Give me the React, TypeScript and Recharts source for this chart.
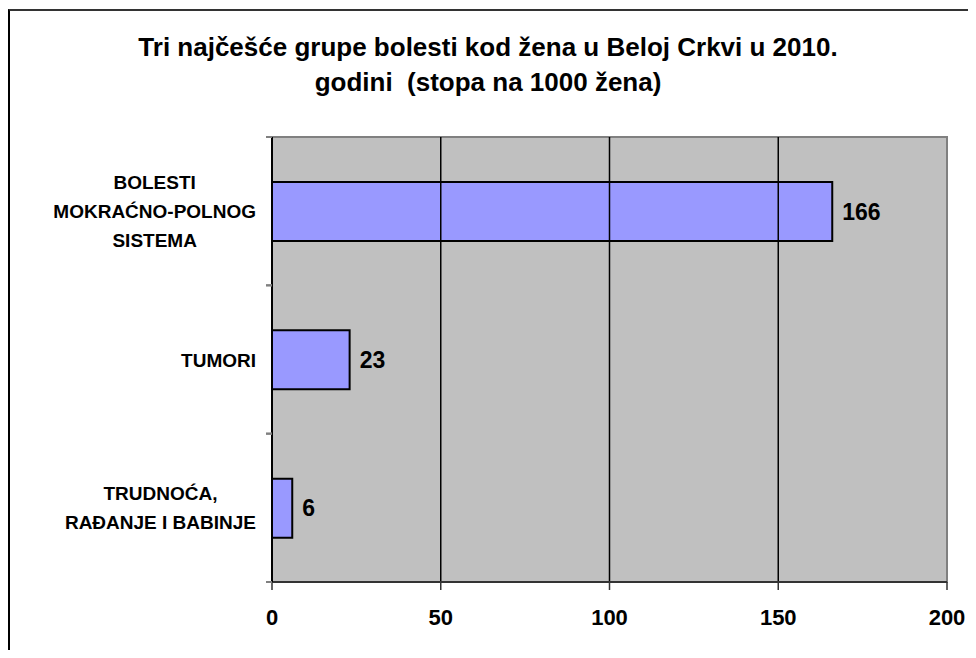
import React from "react";
import {
  BarChart,
  Bar,
  XAxis,
  YAxis,
  CartesianGrid,
  ReferenceLine,
  ReferenceArea,
  LabelList,
} from "recharts";

const categories = [
  "BOLESTI|MOKRAĆNO-POLNOG|SISTEMA",
  "TUMORI",
  "TRUDNOĆA,|RAĐANJE I BABINJE",
];
const values = [166, 23, 6];
const xTicks = [0, 50, 100, 150, 200];
const gridValues = [50, 100, 150];
const titleLines = [
  "Tri najčešće grupe bolesti kod žena u Beloj Crkvi u 2010.",
  "godini  (stopa na 1000 žena)",
];

const data = categories.map((c, i) => ({ name: c, value: values[i] }));

const W = 976;
const H = 658;
const MARGIN = { top: 137, right: 29, bottom: 0, left: 0 };
const Y_AXIS_W = 272;
const X_AXIS_H = 76;
const FONT = '"Liberation Sans", Arial, sans-serif';
const CAT_FONT_SIZE = 19;
const LINE_H = 29;

let ctx: CanvasRenderingContext2D | null = null;
function measure(t: string): number {
  if (!ctx && typeof document !== "undefined") {
    ctx = document.createElement("canvas").getContext("2d");
  }
  if (!ctx) return t.length * CAT_FONT_SIZE * 0.7;
  ctx.font = `bold ${CAT_FONT_SIZE}px "Liberation Sans"`;
  return ctx.measureText(t).width;
}

const plotH = H - MARGIN.top - MARGIN.bottom - X_AXIS_H;
const bandHalf = plotH / categories.length / 2;

const CategoryTick = (props: any) => {
  const { x, y, payload } = props;
  const lines = String(payload.value).split("|");
  const blockW = Math.max(...lines.map(measure));
  const axisX = x + 8;
  const cx = axisX - 16 - blockW / 2;
  const startY = y - ((lines.length - 1) * LINE_H) / 2;
  return (
    <g>
      <line x1={axisX - 6} x2={axisX} y1={y - bandHalf} y2={y - bandHalf} stroke="#808080" strokeWidth={2} />
      <line x1={axisX - 6} x2={axisX} y1={y + bandHalf} y2={y + bandHalf} stroke="#808080" strokeWidth={2} />
      <text
        x={cx}
        y={startY}
        textAnchor="middle"
        fontFamily={FONT}
        fontWeight="bold"
        fontSize={CAT_FONT_SIZE}
        fill="#000"
        dominantBaseline="central"
      >
        {lines.map((l, i) => (
          <tspan key={i} x={cx} y={startY + i * LINE_H}>
            {l}
          </tspan>
        ))}
      </text>
    </g>
  );
};

const XTick = (props: any) => {
  const { x, y, payload } = props;
  return (
    <text
      x={x}
      y={y + 25}
      textAnchor="middle"
      fontFamily={FONT}
      fontWeight="bold"
      fontSize={22}
      fill="#000"
      dominantBaseline="central"
    >
      {payload.value}
    </text>
  );
};

export default function App() {
  return (
    <div style={{ position: "relative", margin: -8, width: W, height: H, background: "#fff" }}>
      <div
        style={{
          position: "absolute",
          left: 8,
          top: 9,
          right: 0,
          bottom: 0,
          borderTop: "2px solid #333",
          borderLeft: "2px solid #000",
          pointerEvents: "none",
        }}
      />
      <div
        style={{
          position: "absolute",
          left: 0,
          top: 30,
          width: W,
          textAlign: "center",
          fontFamily: FONT,
          fontWeight: "bold",
          fontSize: 26,
          lineHeight: "35px",
          color: "#000",
        }}
      >
        {titleLines.map((l, i) => (
          <div key={i} style={{ whiteSpace: "pre" }}>{l}</div>
        ))}
      </div>
      <div style={{ position: "absolute", left: 0, top: 0 }}>
        <BarChart
          width={W}
          height={H}
          data={data}
          layout="vertical"
          margin={MARGIN}
          barSize={59}
        >
          <CartesianGrid horizontal={false} vertical={false} fill="#C0C0C0" />
          {gridValues.map((g) => (
            <ReferenceLine key={g} x={g} stroke="#000" strokeWidth={1.5} />
          ))}
          <ReferenceArea x1={0} x2={200} fill="none" stroke="#808080" strokeWidth={2} />
          <XAxis
            type="number"
            domain={[0, 200]}
            ticks={xTicks}
            interval={0}
            height={X_AXIS_H}
            axisLine={{ stroke: "#333", strokeWidth: 2 }}
            tickLine={{ stroke: "#333", strokeWidth: 1.5 }}
            tickSize={8}
            tick={<XTick />}
          />
          <YAxis
            type="category"
            dataKey="name"
            width={Y_AXIS_W}
            axisLine={{ stroke: "#000", strokeWidth: 2 }}
            tickLine={false}
            tick={<CategoryTick />}
            interval={0}
          />
          <Bar dataKey="value" fill="#9999FF" stroke="#000" strokeWidth={2} isAnimationActive={false}>
            <LabelList
              dataKey="value"
              position="right"
              offset={10}
              fill="#000"
              fontFamily={FONT}
              fontWeight="bold"
              fontSize={23}
            />
          </Bar>
        </BarChart>
      </div>
    </div>
  );
}
